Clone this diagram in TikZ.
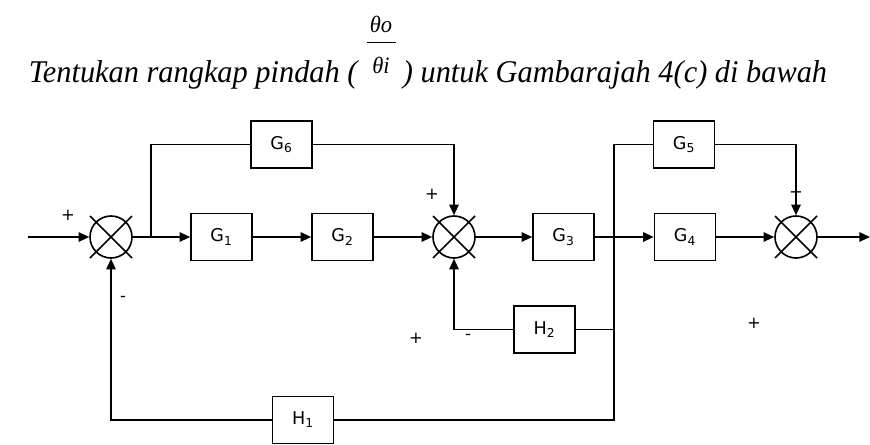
\documentclass[tikz,border=0pt]{standalone}
\usepackage{fontspec}
\setsansfont{DejaVu Sans}
\newfontfamily\titlefont[FakeStretch=0.96]{Liberation Serif}
\usetikzlibrary{arrows.meta,positioning}

\begin{document}
\begin{tikzpicture}[x=0.03cm,y=-0.03cm,line width=1.4pt,
  font=\sffamily\fontsize{15}{18}\selectfont,
  blockbox/.style={draw,minimum width=1.83cm,minimum height=1.41cm,inner sep=0pt},
  sumnode/.style={draw,circle,minimum size=1.26cm,inner sep=0pt},
  sig/.style={-{Triangle[length=9pt,width=8pt]}},
  signlabel/.style={font=\sffamily\fontsize{14}{16}\selectfont,inner sep=0pt},
  qtext/.style={inner sep=0pt,font=\titlefont\itshape\fontsize{27}{32}\selectfont}]
  \useasboundingbox (0,0) rectangle (870,444);
  \node[qtext,anchor=base west] (qpre) at (28,82) {Tentukan rangkap pindah (};
  \node[qtext,anchor=base,font=\titlefont\itshape\fontsize{20}{24}\selectfont] (thetao) at (381,32) {θo};
  \draw[line width=0.7pt] (367,42) -- (396,42);
  \node[qtext,anchor=base,font=\titlefont\itshape\fontsize{20}{24}\selectfont] (thetai) at (381,73) {θi};
  \node[qtext,anchor=base east] (qpost) at (828,82) {) untuk Gambarajah 4(c) di bawah};

  \node[sumnode] (s1) at (111,237) {};
  \node[sumnode] (s2) at (454,237) {};
  \node[sumnode] (s3) at (796,237) {};
  \foreach \s in {s1,s2,s3} {
    \draw ([shift={(-21,-21)}]\s.center) -- ([shift={(21,21)}]\s.center);
    \draw ([shift={(-21,21)}]\s.center) -- ([shift={(21,-21)}]\s.center);
  }
  \node[blockbox] (g1) at (221.5,237) {G\textsubscript{1}};
  \node[blockbox] (g2) at (342.5,237) {G\textsubscript{2}};
  \node[blockbox] (g3) at (563.5,237) {G\textsubscript{3}};
  \node[blockbox] (g4) at (685,237) {G\textsubscript{4}};
  \node[blockbox] (g6) at (281.5,144.5) {G\textsubscript{6}};
  \node[blockbox] (g5) at (684,144.5) {G\textsubscript{5}};
  \node[blockbox] (h2) at (544.5,329.5) {H\textsubscript{2}};
  \node[blockbox] (h1) at (303,420) {H\textsubscript{1}};

  \coordinate (in) at (28,237);
  \coordinate (b1) at (151,237);
  \coordinate (b2) at (614,237);
  \coordinate (out) at (870,237);

  \draw[sig] (in) -- (s1);
  \draw[sig] (s1) -- (g1);
  \draw[sig] (g1) -- (g2);
  \draw[sig] (g2) -- (s2);
  \draw[sig] (s2) -- (g3);
  \draw[sig] (g3) -- (g4);
  \draw[sig] (g4) -- (s3);
  \draw[sig] (s3) -- (out);
  \draw (b1) |- (g6);
  \draw[sig] (g6) -| (s2);
  \draw (b2) |- (g5);
  \draw[sig] (g5) -| (s3);
  \draw (b2) |- (h2);
  \draw[sig] (h2) -| (s2);
  \draw (b2) |- (h1);
  \draw[sig] (h1) -| (s1);

  \node[signlabel] (p1) at (68,215) {+};
  \node[signlabel] (m1) at (123,299) {-};
  \node[signlabel] (p2) at (432,194) {+};
  \node[signlabel] (p3) at (416,338) {+};
  \node[signlabel] (m2) at (468,337) {-};
  \node[signlabel] (p4) at (796,192) {+};
  \node[signlabel] (p5) at (754,323) {+};
\end{tikzpicture}
\end{document}
